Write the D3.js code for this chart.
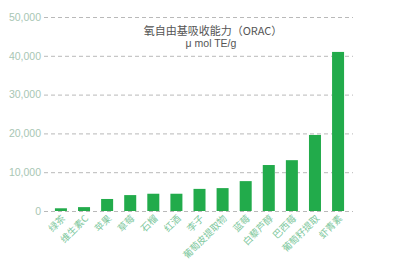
<!DOCTYPE html>
<html>
<head>
<meta charset="utf-8">
<script src="https://cdn.jsdelivr.net/npm/d3@7"></script>
<style>
  body { margin: 0; background: #fff; }
  text { font-family: "Noto Sans CJK SC", "Liberation Sans", sans-serif; }
</style>
</head>
<body>
<svg id="chart" width="396" height="265"></svg>
<script>
const categories = ["绿茶", "维生素C", "苹果", "草莓", "石榴", "红酒", "李子",
    "葡萄皮提取物", "蓝莓", "白藜芦醇", "巴西莓", "葡萄籽提取", "虾青素"];
const orac = [700, 1000, 3100, 4100, 4450, 4450, 5700, 5900, 7700, 11850, 13100, 19600, 41000];
const yTicks = [0, 10000, 20000, 30000, 40000, 50000];

const svg = d3.select("svg#chart");
const margin = {top: 17, left: 44, right: 43, bottom: 54};
const width = 396 - margin.left - margin.right;
const height = 265 - margin.top - margin.bottom;
const g = svg.append("g").attr("transform", `translate(${margin.left},${margin.top})`);

const x = d3.scaleBand().domain(categories).range([4, width - 2]).paddingInner(0.48).paddingOuter(0.3);
const y = d3.scaleLinear().domain([0, 50000]).range([height, 0]);

// dashed grid + tick labels
const yAxis = d3.axisLeft(y).tickValues(yTicks).tickSize(-width).tickPadding(3)
    .tickFormat(d3.format(","));
g.append("g").call(yAxis)
    .call(a => a.select(".domain").remove())
    .call(a => a.selectAll("line").attr("stroke", "#b9b9b9").attr("stroke-dasharray", "4,3"))
    .call(a => a.selectAll("text").attr("fill", "#a8c6b4").attr("font-size", 10.5)
        .style("font-family", "Liberation Sans, sans-serif"));

g.selectAll("rect.bar")
    .data(orac)
    .join("rect")
    .attr("class", "bar")
    .attr("x", (d, i) => x(categories[i]))
    .attr("width", x.bandwidth())
    .attr("y", d => y(d))
    .attr("height", d => y(0) - y(d))
    .attr("fill", "#22ab4b");

g.selectAll("text.cat")
    .data(categories)
    .join("text")
    .attr("class", "cat")
    .attr("text-anchor", "end")
    .attr("font-size", 9.5)
    .attr("fill", "#7dc79c")
    .attr("transform", d => `translate(${x(d) + x.bandwidth() / 2 + 5},${height + 8}) rotate(-45)`)
    .text(d => d);

// title
svg.append("text")
    .attr("x", 213).attr("y", 35)
    .attr("text-anchor", "middle")
    .attr("font-size", 11)
    .attr("fill", "#555")
    .text("氧自由基吸收能力（ORAC）");
svg.append("text")
    .attr("x", 211).attr("y", 47)
    .attr("text-anchor", "middle")
    .attr("font-size", 10.5)
    .attr("fill", "#555")
    .style("font-family", "Liberation Sans, sans-serif")
    .text("μ  mol TE/g");
</script>
</body>
</html>
